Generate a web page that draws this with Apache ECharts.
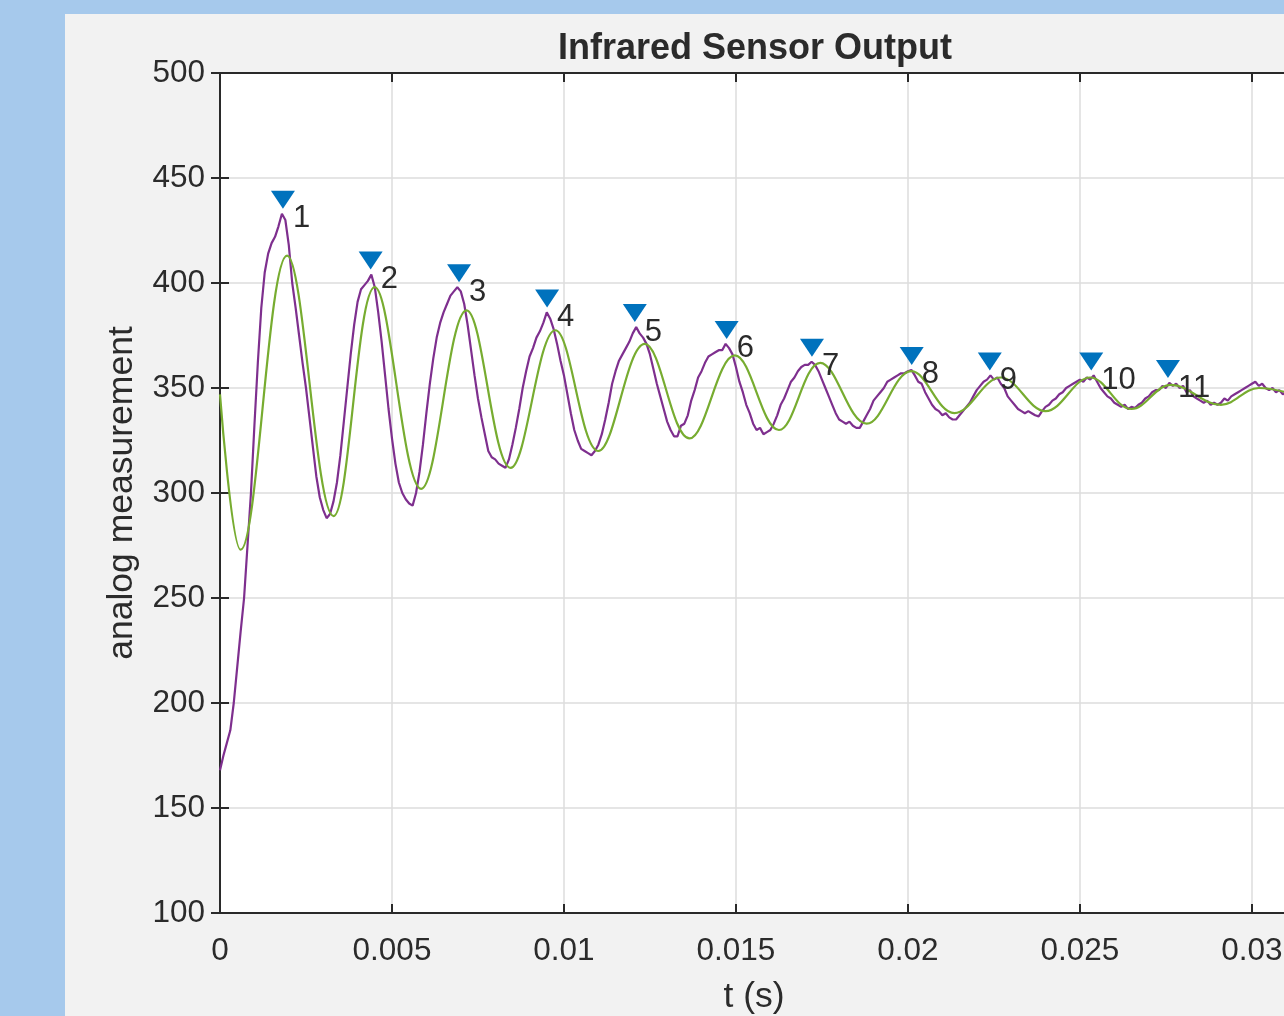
<!DOCTYPE html>
<html>
<head>
<meta charset="utf-8">
<title>Infrared Sensor Output</title>
<script src="https://cdn.jsdelivr.net/npm/echarts@6/dist/echarts.min.js"></script>
<style>
    html, body {
        margin: 0;
        width: 100%;
        height: 100%;
        overflow: hidden;
        background: #a6c9ec;
    }
    #chart {
        position: absolute;
        left: 65px;
        top: 14px;
        width: 1300px;
        height: 1002px;
        background: #f2f2f2;
    }
</style>
</head>
<body>
<div id="chart"></div>
<script>
// raw sensor samples, one every 0.1 ms starting at t = 0
const sampleStep = 0.0001;
const rawValues = [
    168, 175, 181, 187, 200, 217, 234, 250, 275, 300,
    332, 362, 388, 405, 414, 419, 422, 427, 433, 430,
    418, 400, 388, 375, 362, 350, 336, 322, 308, 298,
    292, 288, 290, 296, 305, 318, 334, 350, 366, 380,
    391, 397, 399, 401, 404, 398, 386, 372, 356, 340,
    326, 314, 305, 300, 297, 295, 294, 300, 310, 323,
    338, 352, 364, 374, 381, 386, 390, 394, 396, 398,
    396, 390, 380, 368, 356, 345, 336, 328, 320, 317,
    316, 314, 313, 312, 316, 323, 331, 340, 350, 358,
    365, 369, 374, 377, 381, 386, 383, 378, 371, 363,
    356, 347, 338, 330, 325, 321, 320, 319, 318, 320,
    323, 328, 335, 343, 352, 358, 363, 366, 369, 372,
    376, 379, 376, 374, 371, 366, 359, 352, 346, 340,
    334, 330, 327, 327, 332, 333, 337, 344, 349, 355,
    358, 362, 365, 366, 367, 368, 368, 371, 369, 366,
    360, 353, 348, 342, 338, 333, 330, 331, 328, 329,
    330, 333, 337, 342, 345, 349, 353, 355, 358, 360,
    361, 361, 362.5, 361, 358, 354, 350, 346, 342, 338,
    335, 334, 333, 334, 332, 331, 331, 334, 337, 340,
    344, 346, 348, 350, 353, 354, 355, 356, 357, 357,
    358, 358.6, 356, 353, 352, 348, 345, 342, 340, 339,
    337, 338, 336, 335, 335, 337, 339, 341, 343, 346,
    349, 351, 353, 354, 356, 354, 355, 352, 350, 346,
    344, 342, 340, 339, 338, 339, 338, 337, 336.5, 339,
    341, 342, 344, 345, 347, 348, 350, 351, 352, 353,
    354, 353, 355, 354, 356, 353, 350, 348, 346, 345,
    343, 342, 341, 342, 340, 341, 340.5, 342, 343, 345,
    346, 348, 349, 349, 351, 350, 352.4, 351, 352, 350,
    351, 348, 349, 346, 345, 344, 343, 344, 342, 343,
    342, 343, 345, 344, 346, 347, 348, 349, 350, 351,
    352, 353, 351, 352, 350, 349, 350, 348, 349, 347,
    348
];

// filtered signal, turning points only (drawn smoothed)
const filteredTimes = [
    0, 0.0006, 0.00195, 0.0033, 0.0045, 0.00585, 0.00717, 0.00845, 0.00975,
    0.011, 0.01235, 0.01365, 0.01497, 0.01625, 0.01745, 0.0188, 0.0201,
    0.02135, 0.0227, 0.024, 0.0253, 0.0265, 0.02765, 0.0291, 0.0302, 0.031
];
const filteredValues = [
    347, 273, 413, 289, 398, 302, 387, 312, 377.5,
    320, 371, 326, 365.5, 330, 362, 333, 358,
    338, 355, 339, 355, 340, 351.5, 342, 350, 348
];

// detected peaks of the raw signal
const peakTimes = [0.00183, 0.00438, 0.00695, 0.00951, 0.01206, 0.01473, 0.01721, 0.02011, 0.02238, 0.02533, 0.02756];
const peakValues = [433, 404, 398, 386, 379, 371, 362.5, 358.6, 356, 356, 352.4];

const xMin = 0;
const xMax = 0.03105;
const xStep = 0.005;
const yMin = 100;
const yMax = 500;
const yStep = 50;

const fontName = '"Liberation Sans", Arial, Helvetica, sans-serif';
const inkColor = '#2b2b2b';
const axisColor = '#2a2a2a';

const rawData = rawValues.map((v, i) => [i * sampleStep, v]);
const filteredData = filteredTimes.map((t, i) => [t, filteredValues[i]]);
const peakData = peakTimes.map((t, i) => [t, peakValues[i]]);

const chart = echarts.init(document.getElementById('chart'));

const boxAxis = {
    axisLine: {show: true, lineStyle: {color: axisColor, width: 2}},
    axisTick: {show: true, inside: true, length: 9, lineStyle: {color: axisColor, width: 2}},
    axisLabel: {show: false},
    splitLine: {show: false}
};

chart.setOption({
    animation: false,
    graphic: [{
        type: 'text',
        x: 690,
        y: 35,
        style: {
            text: 'Infrared Sensor Output',
            font: 'bold 36px ' + fontName,
            fill: inkColor,
            align: 'center',
            verticalAlign: 'middle'
        }
    }],
    grid: {
        left: 155, top: 59, width: 1068, height: 840,
        outerBoundsMode: 'none',
        backgroundColor: '#ffffff', show: true, borderWidth: 0
    },
    xAxis: [{
        type: 'value',
        min: xMin,
        max: xMax,
        interval: xStep,
        name: 't (s)',
        nameLocation: 'middle',
        nameGap: 66,
        nameTextStyle: {fontFamily: fontName, fontSize: 35.5, color: inkColor},
        axisLine: {show: true, onZero: false, lineStyle: {color: axisColor, width: 2}},
        axisTick: {show: true, inside: true, length: 9, lineStyle: {color: axisColor, width: 2}},
        axisLabel: {
            margin: 22,
            fontFamily: fontName,
            fontSize: 31.5,
            color: inkColor,
            formatter: v => {
                const k = v / xStep;
                if (Math.abs(k - Math.round(k)) > 1e-6) return '';
                return String(Number(v.toFixed(3)));
            }
        },
        splitLine: {show: true, lineStyle: {color: '#dcdcdc', width: 1.5}}
    }, Object.assign({
        type: 'value', position: 'top', min: xMin, max: xMax, interval: xStep
    }, boxAxis)],
    yAxis: [{
        type: 'value',
        min: yMin,
        max: yMax,
        interval: yStep,
        name: 'analog measurement',
        nameLocation: 'middle',
        nameGap: 80,
        nameTextStyle: {fontFamily: fontName, fontSize: 35.5, color: inkColor},
        axisLine: {show: true, onZero: false, lineStyle: {color: axisColor, width: 2}},
        axisTick: {show: true, inside: true, length: 9, lineStyle: {color: axisColor, width: 2}},
        axisLabel: {margin: 15, fontFamily: fontName, fontSize: 31.5, color: inkColor},
        splitLine: {show: true, lineStyle: {color: '#dcdcdc', width: 1.5}}
    }, Object.assign({
        type: 'value', position: 'right', min: yMin, max: yMax, interval: yStep
    }, boxAxis)],
    series: [{
        name: 'raw',
        type: 'line',
        data: rawData,
        showSymbol: false,
        lineStyle: {color: '#7e2f8e', width: 2.2},
        z: 2
    }, {
        name: 'filtered',
        type: 'line',
        data: filteredData,
        smooth: 0.38,
        showSymbol: false,
        lineStyle: {color: '#77ac30', width: 2.2},
        z: 3
    }, {
        name: 'peaks',
        type: 'scatter',
        data: peakData,
        symbol: 'path://M0,0L24,0L12,18Z',
        symbolSize: [24, 18],
        symbolKeepAspect: false,
        symbolOffset: [0, -14],
        itemStyle: {color: '#0072bd', opacity: 1},
        label: {
            show: true,
            formatter: p => String(p.dataIndex + 1),
            position: [22, 28],
            align: 'left',
            verticalAlign: 'middle',
            fontFamily: fontName,
            fontSize: 31,
            color: inkColor
        },
        z: 5
    }]
});
</script>
</body>
</html>
